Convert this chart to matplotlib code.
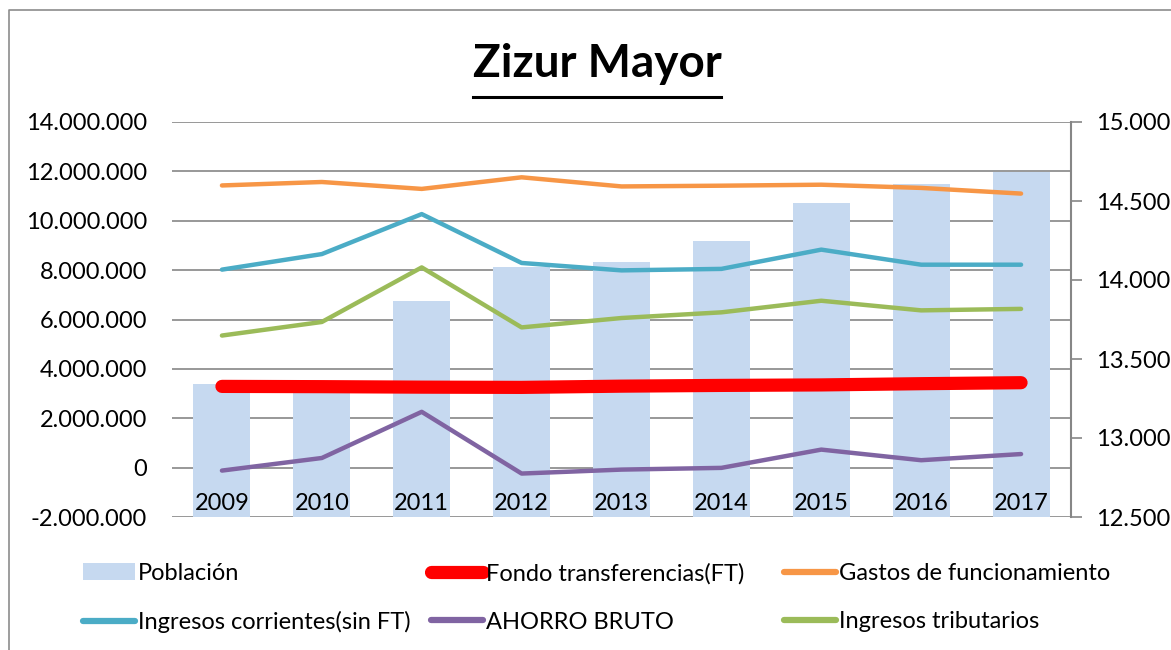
import numpy as np
import matplotlib
matplotlib.use("Agg")
import matplotlib.pyplot as plt
import matplotlib.ticker as ticker
from matplotlib.lines import Line2D
from matplotlib.patches import Patch

plt.rcParams['font.family'] = ['Lato', 'DejaVu Sans']

years = ['2009', '2010', '2011', '2012', '2013', '2014', '2015', '2016', '2017']
poblacion = [13340, 13330, 13870, 14080, 14115, 14250, 14490, 14610, 14685]
fondo_ft = [3290000, 3280000, 3260000, 3250000, 3300000, 3330000, 3350000, 3400000, 3440000]
gastos = [11430000, 11570000, 11290000, 11760000, 11390000, 11420000, 11460000, 11330000, 11100000]
ing_corr = [8020000, 8650000, 10270000, 8290000, 7990000, 8050000, 8830000, 8220000, 8220000]
ahorro = [-120000, 390000, 2260000, -240000, -80000, -10000, 730000, 300000, 550000]
ing_trib = [5350000, 5900000, 8110000, 5680000, 6060000, 6290000, 6760000, 6370000, 6430000]

c_bar = '#C6D9F0'
c_red = '#FF0000'
c_orange = '#F79646'
c_blue = '#4BACC6'
c_purple = '#8064A2'
c_green = '#9BBB59'
grid_c = '#868686'

def dots(v, pos):
    return '{:,.0f}'.format(v).replace(',', '.')

x = np.arange(len(years))

fig = plt.figure(figsize=(11.71, 6.5), dpi=100)
ax = fig.add_axes([172/1171, 1-517/650, (1071-172)/1171, (517-122)/650])
ax2 = ax.twinx()   # bars, right scale
ax3 = ax.twinx()   # lines, left scale
ax.set_zorder(0); ax2.set_zorder(1); ax3.set_zorder(2)
ax2.patch.set_visible(False); ax3.patch.set_visible(False)

# left axis + grid
ax.set_xlim(-0.5, len(years)-0.5)
ax.set_ylim(-2000000, 14000000)
ax.yaxis.set_major_locator(ticker.MultipleLocator(2000000))
ax.yaxis.set_major_formatter(ticker.FuncFormatter(dots))
ax.grid(axis='y', color=grid_c, lw=1.2)
ax.tick_params(axis='y', length=0, pad=18, labelsize=17)
ax.tick_params(axis='x', length=0, labelbottom=False)
for s in ax.spines.values():
    s.set_visible(False)

# bars on right axis
ax2.bar(x, poblacion, width=0.57, color=c_bar, zorder=1)
ax2.set_ylim(12500, 15000)
ax2.yaxis.set_major_locator(ticker.MultipleLocator(500))
ax2.yaxis.set_major_formatter(ticker.FuncFormatter(dots))
ax2.tick_params(axis='y', length=8, width=1.2, color=grid_c, pad=10, labelsize=17)
for k in ['top', 'left', 'bottom']:
    ax2.spines[k].set_visible(False)
ax2.spines['right'].set_color(grid_c)
ax2.spines['right'].set_linewidth(1.5)

# lines
ax3.set_ylim(-2000000, 14000000)
ax3.plot(x, fondo_ft, color=c_red, lw=9.5, solid_capstyle='round', solid_joinstyle='round')
ax3.plot(x, gastos, color=c_orange, lw=3.2, solid_capstyle='round', solid_joinstyle='round')
ax3.plot(x, ing_corr, color=c_blue, lw=3.2, solid_capstyle='round', solid_joinstyle='round')
ax3.plot(x, ahorro, color=c_purple, lw=3.2, solid_capstyle='round', solid_joinstyle='round')
ax3.plot(x, ing_trib, color=c_green, lw=3.2, solid_capstyle='round', solid_joinstyle='round')
ax3.set_yticks([])
for s in ax3.spines.values():
    s.set_visible(False)
ax3.xaxis.set_visible(True)
ax3.set_xticks(x)
ax3.set_xticklabels(years)
ax3.tick_params(axis='x', length=0, pad=-17, labelsize=17)
ax3.set_xlim(-0.5, len(years)-0.5)

# legend, three columns
h_pob = Patch(facecolor=c_bar, edgecolor='none')
def lh(c, w):
    return Line2D([], [], color=c, lw=w, solid_capstyle='round')
cols = [
    ([h_pob, lh(c_blue, 4.5)], ['Población', 'Ingresos corrientes(sin FT)'], 83),
    ([lh(c_red, 9.5), lh(c_purple, 4.5)], ['Fondo transferencias(FT)', 'AHORRO BRUTO'], 431),
    ([lh(c_orange, 4.5), lh(c_green, 4.5)], ['Gastos de funcionamiento', 'Ingresos tributarios'], 784),
]
for hs, ls, px in cols:
    lg = fig.legend(hs, ls, loc='upper left', bbox_to_anchor=(px/1171, 1-563/650),
                    frameon=False, fontsize=17, handlelength=2.2, handleheight=0.7,
                    handletextpad=0.12, borderpad=0, borderaxespad=0, labelspacing=1.15)

# title with underline
t = fig.text(597/1171, 1-64/650, 'Zizur Mayor', ha='center', va='center',
             fontsize=33, fontweight='bold')
fig.canvas.draw()
bb = t.get_window_extent().transformed(fig.transFigure.inverted())
fig.add_artist(Line2D([bb.x0, bb.x1], [1-97/650, 1-97/650], color='black', lw=2.2,
                      transform=fig.transFigure))

# outer border (top and left)
fig.add_artist(Line2D([9/1171, 9/1171, 1.0], [0.0, 1-10/650, 1-10/650], color='#8c8c8c',
                      lw=1.2, transform=fig.transFigure))

fig.savefig('out.png', dpi=100)
